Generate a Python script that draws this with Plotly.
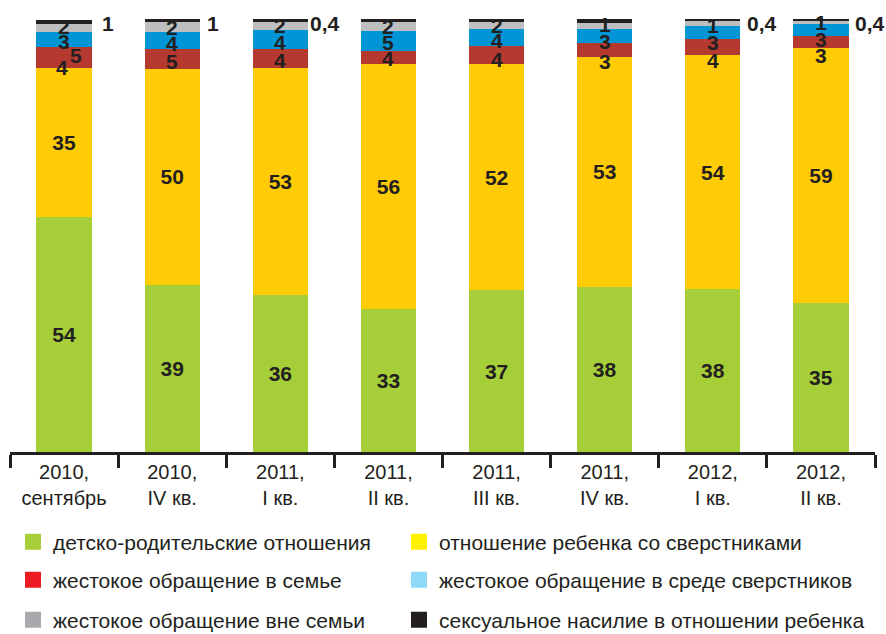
import plotly.graph_objects as go

# categories (periods)
periods = [
    "2010,<br>сентябрь", "2010,<br>IV кв.", "2011,<br>I кв.", "2011,<br>II кв.",
    "2011,<br>III кв.", "2011,<br>IV кв.", "2012,<br>I кв.", "2012,<br>II кв.",
]

# segment heights (% of requests)
parent_child = [54.2, 38.6, 36.3, 33.1, 37.3, 38.2, 37.7, 34.5]
peers = [34.6, 49.9, 52.4, 56.4, 52.2, 53.1, 53.9, 58.7]
abuse_family = [4.8, 4.6, 4.4, 3.2, 4.2, 3.2, 3.7, 2.8]
abuse_peers = [3.5, 3.9, 4.4, 4.6, 3.9, 3.2, 3.2, 2.8]
abuse_outside = [1.8, 2.3, 1.8, 2.1, 1.6, 1.4, 1.1, 0.9]
sexual_abuse = [0.9, 0.7, 0.7, 0.9, 0.9, 0.9, 0.4, 0.3]

# printed labels
parent_child_lbl = ["54", "39", "36", "33", "37", "38", "38", "35"]
peers_lbl = ["35", "50", "53", "56", "52", "53", "54", "59"]
abuse_family_lbl = ["5", "5", "4", "4", "4", "3", "4", "3"]
abuse_peers_lbl = ["3", "4", "4", "5", "4", "3", "3", "3"]
abuse_outside_lbl = ["2", "2", "2", "2", "2", "1", "1", "1"]
sexual_abuse_lbl = ["1", "1", "0,4", "1", "1", "1", "0,4", "0,4"]

names = [
    "детско-родительские отношения",
    "отношение ребенка со сверстниками",
    "жестокое обращение в семье",
    "жестокое обращение в среде сверстников",
    "жестокое обращение вне семьи",
    "сексуальное насилие в отношении ребенка",
]
bar_colors = ["#a6ce39", "#ffcb05", "#b5392f", "#0096d6", "#bcbec0", "#231f20"]
legend_colors = ["#a6ce39", "#fff200", "#ed1c24", "#8ed8f8", "#a7a9ac", "#231f20"]

FONT = "Arial, Liberation Sans, sans-serif"
INK = "#231f20"

series = [parent_child, peers, abuse_family, abuse_peers, abuse_outside, sexual_abuse]
labels = [parent_child_lbl, peers_lbl, abuse_family_lbl, abuse_peers_lbl,
          abuse_outside_lbl, sexual_abuse_lbl]

fig = go.Figure()

for k, (vals, name, col) in enumerate(zip(series, names, bar_colors)):
    big = k < 2
    fig.add_trace(go.Bar(
        x=periods, y=vals, name=name, marker=dict(color=col, line=dict(width=0)),
        text=labels[k] if big else None,
        textposition="inside" if big else "none",
        insidetextanchor="middle", textangle=0, constraintext="none",
        textfont=dict(family=FONT, size=21, color=INK, weight="bold"),
        showlegend=False, hoverinfo="skip",
    ))

# legend swatches (the printed legend uses its own colours)
legend_ids = ["legend", "legend", "legend2", "legend2", "legend3", "legend3"]
for j, (name, col, lg) in enumerate(zip(names, legend_colors, legend_ids)):
    fig.add_trace(go.Scatter(
        x=[periods[0]], y=[None], mode="markers", name=name,
        marker=dict(symbol="square", size=16, color=col),
        legend=lg, legendwidth=341 if j % 2 == 0 else 424, hoverinfo="skip",
    ))

# small segment labels, nudged as in the print (pixels)
shift_y = {
    2: [2, -3, -2, -1, -4, -12, -13, -13],
    3: [-2, -3, -3, -2, -3, -6, -10, -9],
    4: [1, 0, 0, 0, 0, 1, -2, 0],
}
shift_x = {2: [12, 0, 0, 0, 0, 0, 0, 0]}
top_shift_x = [36, 33, 28, 39, 34, 32, 32, 32]

annotations = []
for i, p in enumerate(periods):
    bottom = 0.0
    for k, vals in enumerate(series):
        v = vals[i]
        if k in (2, 3, 4):
            annotations.append(dict(
                x=p, y=bottom + v / 2, text=labels[k][i], showarrow=False,
                xshift=shift_x.get(k, [0] * 8)[i], yshift=shift_y[k][i],
                font=dict(family=FONT, size=21, color=INK, weight="bold"),
            ))
        bottom += v
    # sexual abuse value printed to the right of the bar top
    annotations.append(dict(
        x=p, y=bottom, text=sexual_abuse_lbl[i], showarrow=False,
        xanchor="left", xshift=top_shift_x[i], yshift=-4,
        font=dict(family=FONT, size=21, color=INK, weight="bold"),
    ))

# stray "4" printed at the top of the first yellow segment
annotations.append(dict(
    x=periods[0], y=parent_child[0] + peers[0], text="4", showarrow=False,
    xshift=-2, font=dict(family=FONT, size=21, color=INK, weight="bold"),
))

legend_style = dict(
    orientation="h", xref="container", yref="container", x=13 / 886, xanchor="left",
    yanchor="middle", traceorder="normal",
    font=dict(family=FONT, size=21, color=INK), bgcolor="rgba(0,0,0,0)",
)

fig.update_layout(
    width=886, height=634,
    margin=dict(l=10, r=11, t=19, b=182, autoexpand=False),
    paper_bgcolor="white", plot_bgcolor="white",
    barmode="stack", bargap=0.49,
    font=dict(family=FONT, color=INK),
    annotations=annotations,
    legend=dict(legend_style, y=1 - 542 / 634),
    legend2=dict(legend_style, y=1 - 580 / 634),
    legend3=dict(legend_style, y=1 - 620 / 634),
    xaxis=dict(
        range=[-0.5, 7.5], showline=True, linecolor=INK, linewidth=3,
        ticks="outside", tickson="boundaries", ticklen=13, tickwidth=2.5,
        tickcolor=INK, tickfont=dict(family=FONT, size=20, color=INK),
        showgrid=False,
    ),
    yaxis=dict(range=[0, 100], visible=False, showgrid=False, zeroline=False),
)

# drop the browser's default page margin so the figure sits at the window corner
fig.write_html(
    "out.html",
    config={"displayModeBar": False},
    post_script="document.body.style.margin='0';",
)
